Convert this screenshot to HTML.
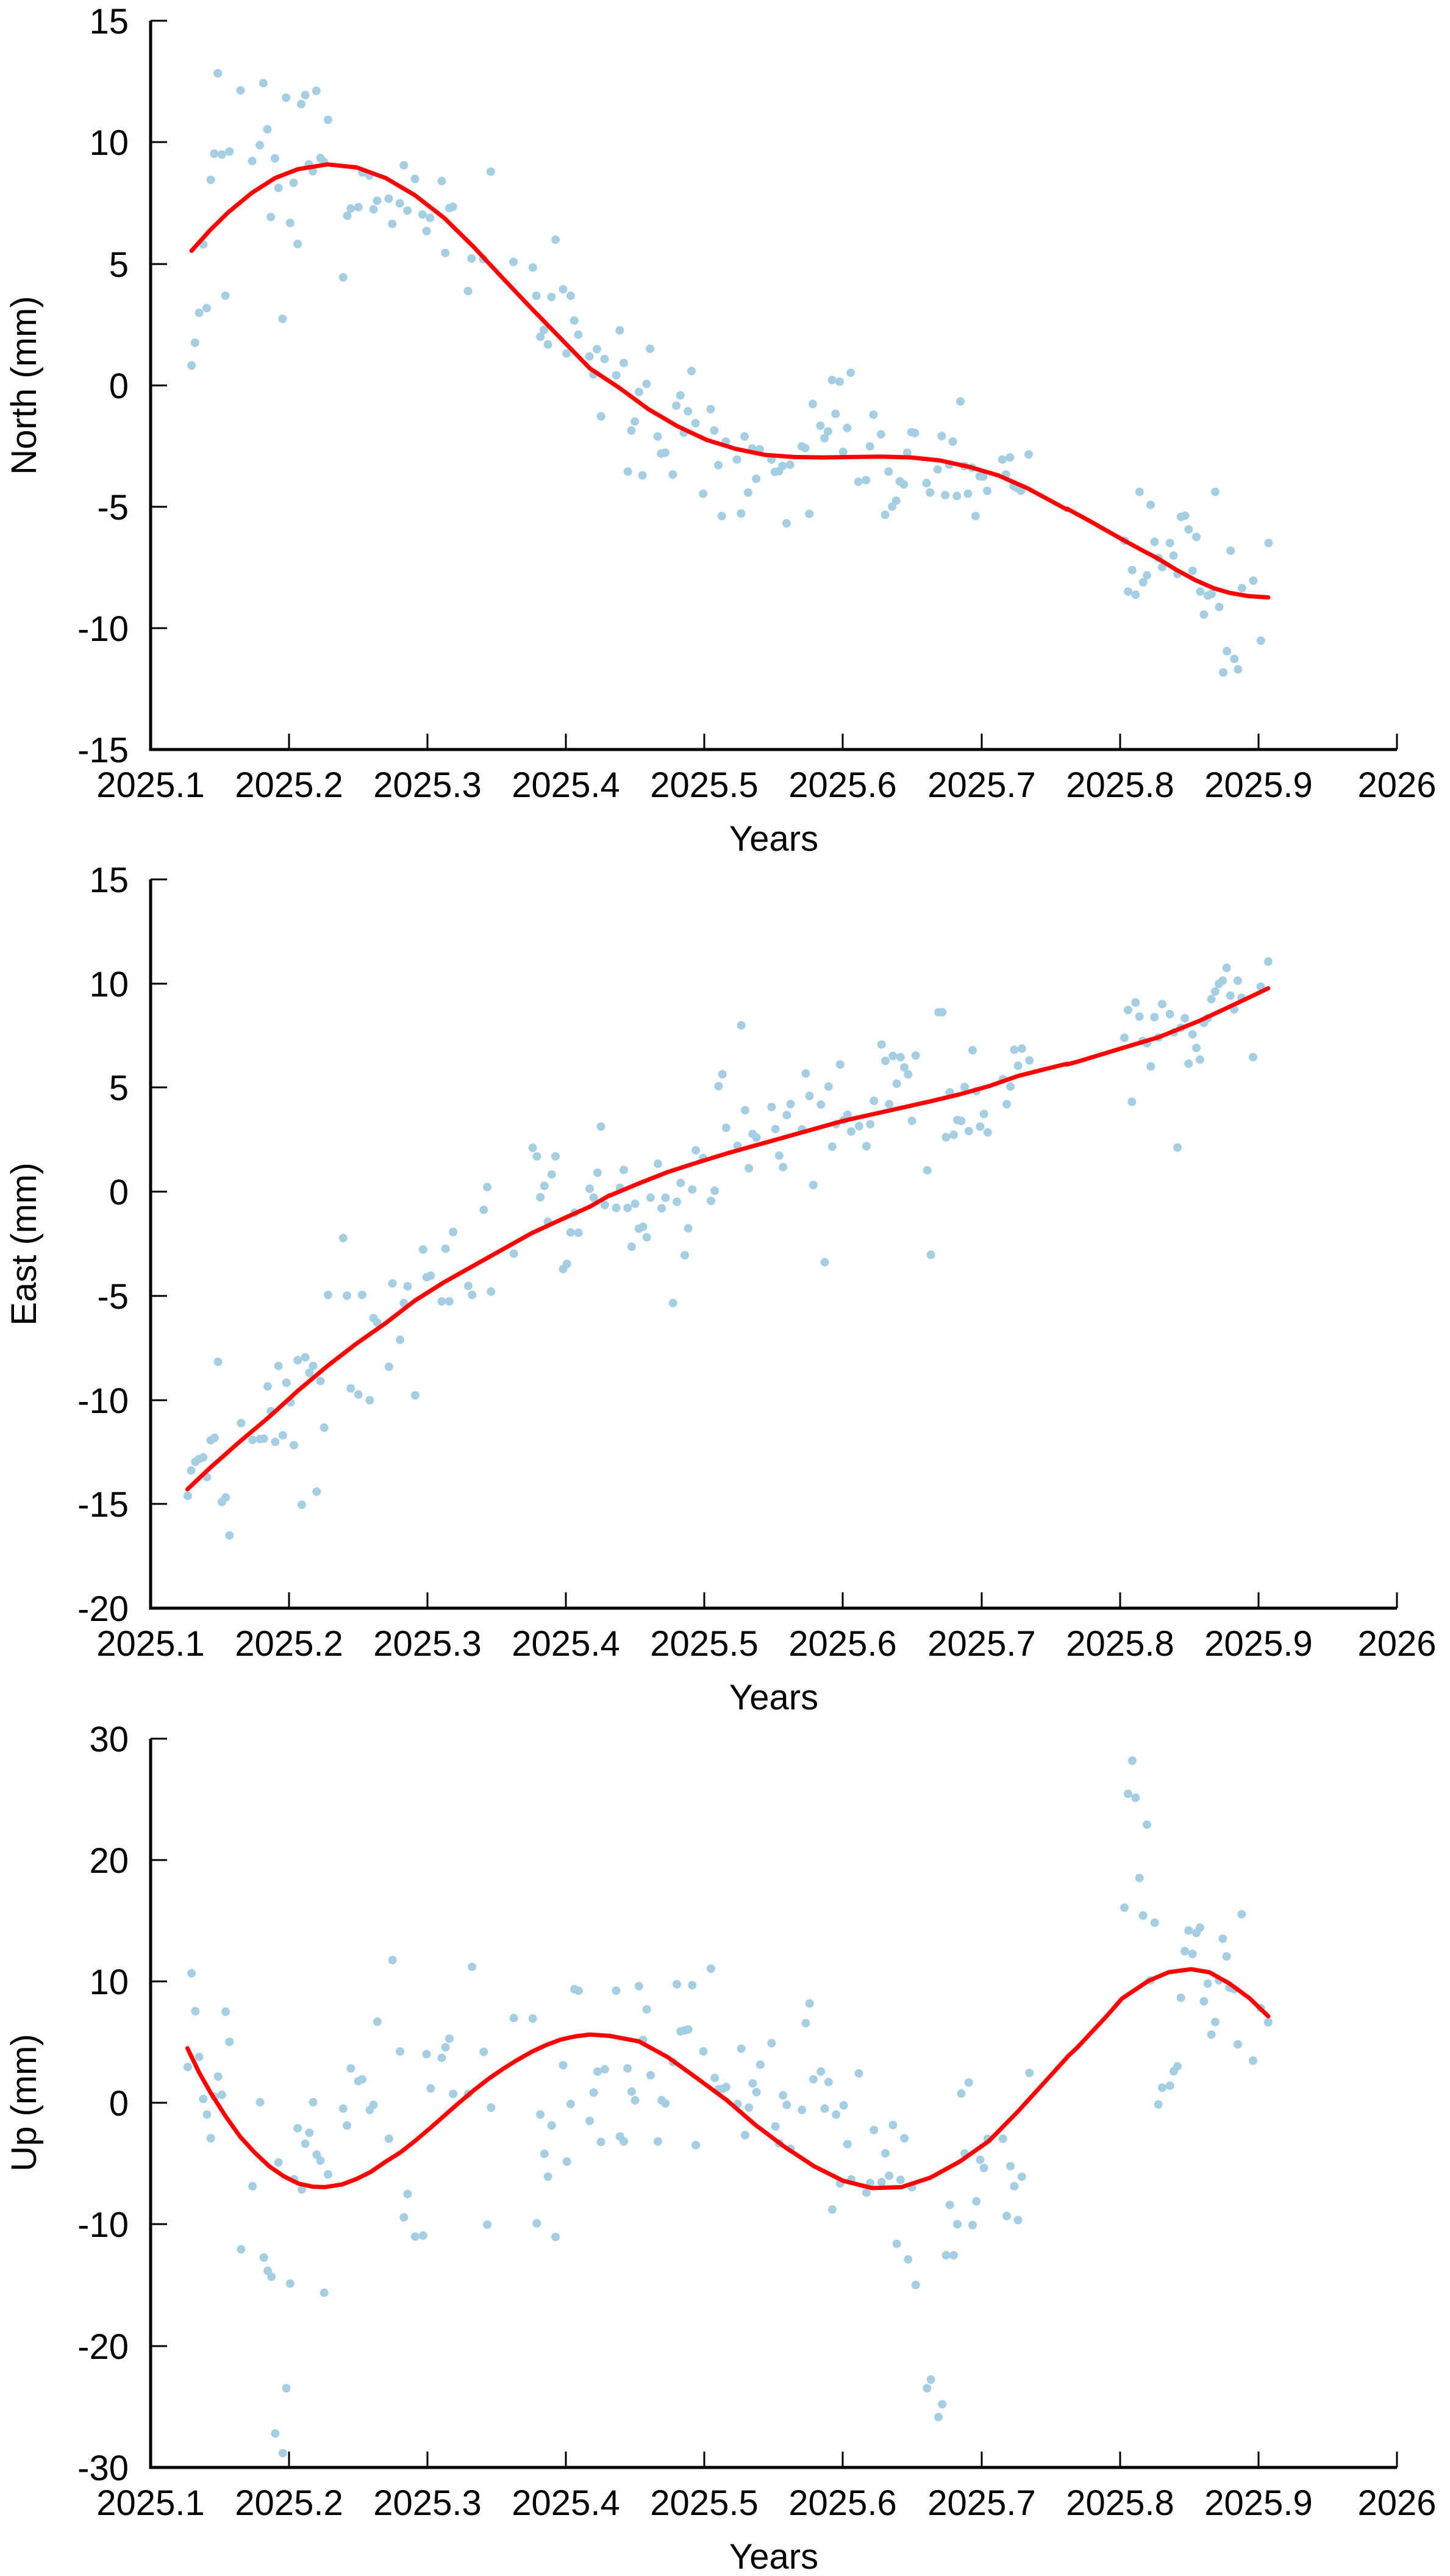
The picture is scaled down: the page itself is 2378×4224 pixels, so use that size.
<!DOCTYPE html>
<html><head><meta charset="utf-8"><style>
html,body{margin:0;padding:0;background:#fff}
svg{display:block}
text{font-family:"Liberation Sans",sans-serif;font-size:58px;fill:#000}
.d{fill:none;stroke:#a6cee3;stroke-width:14;stroke-linecap:round;vector-effect:non-scaling-stroke}
.c{fill:none;stroke:#ff0000;stroke-width:7;stroke-linejoin:round;stroke-linecap:round;vector-effect:non-scaling-stroke}
.ax{stroke:#000;stroke-width:5;fill:none}
.tk{stroke:#000;stroke-width:3}
</style></head><body>
<svg width="2378" height="4224" viewBox="0 0 2378 4224" xmlns="http://www.w3.org/2000/svg">

<!-- ============ PANEL 1 (North) ============ -->
<g transform="translate(250,50) scale(0.9567,0.7015)">
<path class="d" d="M67 783h0M73 730h0M80 660h0M87 500h0M93 649h0M100 349h0M106 288h0M112 100h0M119 290h0M125 620h0M132 283h0M151 140h0M171 305h0M184 268h0M190 123h0M197 231h0M203 436h0M210 299h0M216 368h0M223 674h0M229 157h0M236 450h0M242 356h0M249 499h0M255 172h0M262 151h0M268 313h0M275 329h0M281 141h0M288 298h0M294 307h0M301 209h0M327 577h0M334 433h0M340 416h0M353 413h0M360 332h0M372 339h0M379 418h0M385 398h0M405 393h0M411 452h0M424 404h0M431 315h0M437 421h0M450 347h0M463 430h0M470 469h0M476 438h0M496 352h0M502 520h0M509 415h0M515 412h0M541 609h0M547 533h0M567 534h0M580 330h0M619 541h0M652 554h0M658 620h0M665 716h0M671 700h0M678 734h0M684 623h0M691 489h0M704 605h0M710 755h0M717 620h0M723 678h0M730 711h0M749 762h0M756 804h0M762 745h0M769 902h0M775 768h0M795 806h0M801 701h0M808 777h0M815 1031h0M821 935h0M827 914h0M834 845h0M840 1040h0M847 826h0M853 744h0M866 949h0M872 989h0M879 987h0M892 1038h0M898 877h0M905 853h0M911 940h0M918 890h0M924 796h0M931 918h0M944 1083h0M957 885h0M963 935h0M970 1016h0M976 1135h0M983 961h0M1002 1003h0M1009 1129h0M1015 949h0M1021 1080h0M1028 977h0M1035 1048h0M1041 979h0M1061 1003h0M1067 1032h0M1074 1030h0M1080 1018h0M1087 1152h0M1093 1015h0M1113 972h0M1119 976h0M1126 1130h0M1132 873h0M1145 924h0M1152 953h0M1158 937h0M1165 817h0M1171 896h0M1178 821h0M1184 985h0M1191 929h0M1197 800h0M1210 1055h0M1223 1051h0M1230 972h0M1236 898h0M1249 944h0M1256 1132h0M1262 1031h0M1268 1113h0M1275 1099h0M1281 1054h0M1288 1061h0M1294 987h0M1301 939h0M1307 941h0M1327 1058h0M1333 1080h0M1346 1026h0M1353 948h0M1359 1086h0M1366 1015h0M1372 961h0M1379 1088h0M1385 867h0M1392 1018h0M1398 1083h0M1405 1022h0M1411 1135h0M1418 1042h0M1424 1043h0M1431 1076h0M1457 1003h0M1463 1038h0M1470 998h0M1476 1065h0M1483 1070h0M1489 1076h0M1502 991h0"/>
<path class="c" d="M67 515L100 465L130 425L170 380L210 345L250 324L300 313L350 320L400 345L450 385L500 438L550 505L600 578L650 650L700 720L750 790L800 835L850 885L900 925L950 957L1000 978L1050 992L1100 997L1150 998L1200 997L1250 996L1300 998L1350 1005L1400 1020L1450 1040L1500 1070L1568 1120"/>
</g>
<g transform="translate(1700,700) scale(0.4329,0.3831)">
<path class="d" d="M333 487h0M390 278h0M432 334h0M447 492h0M462 562h0M476 600h0M362 613h0M418 635h0M404 665h0M347 705h0M375 718h0M505 497h0M519 551h0M534 630h0M547 385h0M562 380h0M576 439h0M591 616h0M605 471h0M620 705h0M634 803h0M649 722h0M663 715h0M677 278h0M692 771h0M707 1051h0M721 960h0M735 530h0M749 993h0M763 1038h0M778 690h0M821 658h0M850 915h0M879 497h0"/>
<path class="c" d="M115 350L200 402L333 487L400 528L462 565L530 612L600 655L670 690L730 710L800 724L878 730"/>
</g>
<!-- axes panel 1 -->
<path class="ax" d="M247 34V1229H2291"/>
<g class="tk">
<path d="M247 34h27M247 233h27M247 433h27M247 632h27M247 831h27M247 1030h27"/>
<path d="M474 1229v-26M701 1229v-26M928 1229v-26M1155 1229v-26M1382 1229v-26M1610 1229v-26M1837 1229v-26M2064 1229v-26M2291 1229v-26"/>
</g>
<g text-anchor="end">
<text x="211" y="55">15</text><text x="211" y="254">10</text><text x="211" y="454">5</text><text x="211" y="653">0</text><text x="211" y="852">-5</text><text x="211" y="1051">-10</text><text x="211" y="1250">-15</text>
</g>
<g text-anchor="middle">
<text x="247" y="1307">2025.1</text><text x="474" y="1307">2025.2</text><text x="701" y="1307">2025.3</text><text x="928" y="1307">2025.4</text><text x="1155" y="1307">2025.5</text><text x="1382" y="1307">2025.6</text><text x="1610" y="1307">2025.7</text><text x="1837" y="1307">2025.8</text><text x="2064" y="1307">2025.9</text><text x="2291" y="1307">2026</text>
<text x="1269" y="1395">Years</text>
<text transform="translate(59,632) rotate(-90)">North (mm)</text>
</g>

<!-- ============ PANEL 2 (East) ============ -->
<g transform="translate(250,1550) scale(0.4783,0.6697)">
<path class="d" d="M121 1348h0M133 1286h0M147 1265h0M160 1258h0M174 1254h0M187 1302h0M200 1212h0M213 1206h0M225 1020h0M238 1363h0M251 1352h0M264 1445h0M304 1170h0M343 1211h0M369 1209h0M382 1208h0M395 1080h0M406 1141h0M421 1216h0M432 1030h0M447 1200h0M459 1071h0M473 1119h0M485 1224h0M498 1016h0M512 1370h0M524 1009h0M538 1047h0M551 1030h0M563 1338h0M576 1067h0M589 1181h0M602 856h0M654 717h0M667 858h0M680 1085h0M706 1100h0M719 856h0M745 1114h0M758 913h0M771 924h0M811 1032h0M823 828h0M849 966h0M862 876h0M875 835h0M901 1102h0M928 745h0M940 813h0M954 809h0M992 872h0M1005 743h0M1018 872h0M1031 702h0M1083 834h0M1096 856h0M1136 648h0M1148 592h0M1161 848h0M1239 755h0M1304 496h0M1318 517h0M1330 617h0M1344 589h0M1356 677h0M1369 561h0M1382 517h0M1408 793h0M1421 780h0M1434 703h0M1447 655h0M1461 704h0M1499 596h0M1513 618h0M1526 557h0M1538 444h0M1551 636h0"/>
<path class="c" d="M120 1332L200 1278L300 1215L400 1155L500 1090L600 1030L700 975L800 925L900 870L1000 825L1100 785L1200 745L1300 705L1400 672L1500 640L1568 612"/>
</g>
<g transform="translate(1000,1550) scale(0.4783,0.6697)">
<path class="d" d="M22 643h0M35 594h0M48 550h0M61 643h0M75 738h0M87 633h0M100 694h0M114 689h0M127 715h0M140 618h0M165 535h0M178 644h0M191 618h0M217 876h0M230 628h0M243 582h0M257 759h0M269 693h0M283 598h0M295 502h0M320 521h0M347 626h0M360 601h0M373 345h0M386 316h0M399 447h0M438 491h0M451 196h0M464 404h0M477 546h0M490 462h0M503 471h0M555 396h0M568 450h0M581 515h0M594 543h0M607 416h0M620 389h0M659 451h0M672 314h0M685 369h0M698 587h0M724 390h0M737 776h0M750 346h0M763 493h0M776 438h0M790 292h0M802 428h0M815 415h0M828 456h0M855 443h0M880 492h0M893 438h0M906 381h0M932 243h0M945 283h0M958 389h0M971 271h0M984 339h0M997 274h0M1010 299h0M1023 316h0M1036 430h0M1049 270h0M1089 551h0M1101 758h0M1127 164h0M1140 164h0M1153 470h0M1166 360h0M1179 464h0M1192 428h0M1205 430h0M1217 347h0M1231 455h0M1244 257h0M1257 357h0M1270 444h0M1283 413h0M1296 458h0M1348 328h0M1361 389h0M1374 346h0M1387 256h0M1400 295h0M1413 253h0M1439 282h0"/>
<path class="c" d="M0 613L100 583L200 555L300 532L400 510L500 490L600 470L700 450L800 430L900 414L1000 398L1100 382L1200 365L1300 345L1400 320L1500 302L1568 290"/>
</g>
<g transform="translate(1700,1500) scale(0.3333,0.4464)">
<path class="d" d="M432 452h0M450 350h0M487 322h0M506 374h0M522 464h0M543 472h0M562 557h0M469 687h0M580 376h0M599 451h0M618 328h0M656 365h0M676 432h0M693 855h0M710 415h0M729 380h0M748 547h0M767 439h0M786 489h0M804 532h0M823 397h0M842 380h0M860 310h0M879 282h0M897 254h0M916 242h0M935 195h0M953 297h0M972 348h0M990 242h0M1009 305h0M1065 523h0M1103 264h0M1140 172h0"/>
<path class="c" d="M150 550L200 540L420 490L600 450L800 390L1000 320L1140 270"/>
</g>
<!-- axes panel 2 -->
<path class="ax" d="M247 1442V2637H2291"/>
<g class="tk">
<path d="M247 1442h27M247 1613h27M247 1783h27M247 1954h27M247 2125h27M247 2296h27M247 2466h27"/>
<path d="M474 2637v-26M701 2637v-26M928 2637v-26M1155 2637v-26M1382 2637v-26M1610 2637v-26M1837 2637v-26M2064 2637v-26M2291 2637v-26"/>
</g>
<g text-anchor="end">
<text x="211" y="1463">15</text><text x="211" y="1634">10</text><text x="211" y="1804">5</text><text x="211" y="1975">0</text><text x="211" y="2146">-5</text><text x="211" y="2317">-10</text><text x="211" y="2487">-15</text><text x="211" y="2658">-20</text>
</g>
<g text-anchor="middle">
<text x="247" y="2715">2025.1</text><text x="474" y="2715">2025.2</text><text x="701" y="2715">2025.3</text><text x="928" y="2715">2025.4</text><text x="1155" y="2715">2025.5</text><text x="1382" y="2715">2025.6</text><text x="1610" y="2715">2025.7</text><text x="1837" y="2715">2025.8</text><text x="2064" y="2715">2025.9</text><text x="2291" y="2715">2026</text>
<text x="1269" y="2803">Years</text>
<text transform="translate(59,2040) rotate(-90)">East (mm)</text>
</g>

<!-- ============ PANEL 3 (Up) ============ -->
<g transform="translate(250,2870) scale(0.4783,0.7494)">
<path class="d" d="M121 693h0M134 488h0M147 571h0M160 671h0M174 763h0M187 797h0M200 849h0M213 758h0M225 714h0M238 754h0M251 572h0M264 638h0M304 1092h0M343 954h0M369 770h0M382 1110h0M395 1139h0M408 1152h0M421 1495h0M432 902h0M447 1538h0M459 1396h0M472 1167h0M486 939h0M498 827h0M512 961h0M524 861h0M538 837h0M551 770h0M563 885h0M576 898h0M589 1187h0M602 928h0M654 784h0M667 821h0M680 696h0M706 724h0M719 720h0M745 787h0M758 776h0M771 594h0M811 850h0M823 459h0M849 659h0M862 1022h0M875 971h0M901 1064h0M928 1062h0M940 665h0M954 740h0M992 673h0M1005 650h0M1018 631h0M1031 752h0M1083 752h0M1096 474h0M1136 660h0M1148 1038h0M1161 782h0M1239 586h0M1304 587h0M1318 1035h0M1330 797h0M1344 883h0M1356 933h0M1369 821h0M1382 1065h0M1408 689h0M1421 900h0M1434 774h0M1447 523h0M1461 526h0M1499 811h0M1513 749h0M1526 703h0M1538 857h0M1551 698h0"/>
<path class="c" d="M120 652L160 705L200 750L250 800L300 845L350 880L400 910L450 932L500 948L550 955L590 956L650 950L700 938L750 922L800 900L850 880L900 855L950 828L1000 800L1050 772L1100 745L1150 720L1200 698L1250 678L1300 660L1350 645L1400 633L1450 626L1500 622L1568 625"/>
</g>
<g transform="translate(1000,2870) scale(0.4783,0.7494)">
<path class="d" d="M22 526h0M35 845h0M48 856h0M61 696h0M75 747h0M87 766h0M100 516h0M114 634h0M127 567h0M140 711h0M165 856h0M178 766h0M191 773h0M217 682h0M230 512h0M243 615h0M257 613h0M269 611h0M283 514h0M295 864h0M321 659h0M347 478h0M360 717h0M373 742h0M386 741h0M399 737h0M438 774h0M451 653h0M464 842h0M477 782h0M490 729h0M503 748h0M516 688h0M555 641h0M568 823h0M581 860h0M594 755h0M607 776h0M620 872h0M659 787h0M672 597h0M685 554h0M698 720h0M724 703h0M737 784h0M750 726h0M763 1005h0M776 797h0M790 948h0M802 777h0M815 862h0M828 939h0M854 707h0M880 968h0M893 947h0M906 831h0M932 945h0M945 882h0M958 931h0M971 820h0M984 1080h0M997 940h0M1010 849h0M1023 1114h0M1036 956h0M1049 1170h0M1088 1396h0M1101 1377h0M1127 1459h0M1140 1431h0M1153 1105h0M1166 995h0M1179 1105h0M1192 1037h0M1205 751h0M1217 882h0M1231 727h0M1244 1039h0M1257 987h0M1270 896h0M1283 914h0M1296 850h0M1348 850h0M1361 1019h0M1374 910h0M1387 954h0M1400 1028h0M1413 933h0M1439 706h0"/>
<path class="c" d="M0 625L100 637L200 672L300 718L400 765L500 820L600 868L700 910L800 942L900 958L1000 956L1100 935L1200 900L1300 855L1400 790L1500 720L1568 672"/>
</g>
<g transform="translate(1700,2900) scale(0.3333,0.4464)">
<path class="d" d="M450 93h0M487 107h0M543 206h0M506 402h0M432 511h0M524 540h0M581 566h0M560 778h0M748 595h0M804 584h0M786 604h0M729 671h0M767 681h0M916 625h0M935 690h0M1009 535h0M710 842h0M842 790h0M823 855h0M897 778h0M950 805h0M972 810h0M879 931h0M860 977h0M990 1013h0M1065 1073h0M1103 880h0M1140 932h0M693 1094h0M675 1112h0M618 1172h0M656 1165h0M599 1234h0"/>
<path class="c" d="M150 1060L200 1025L350 905L420 845L550 780L650 748L760 737L850 748L950 790L1050 845L1140 910"/>
</g>
<path class="d" d="M1857 2887h0"/>
<!-- axes panel 3 -->
<path class="ax" d="M247 2851V4046H2291"/>
<g class="tk">
<path d="M247 2851h27M247 3050h27M247 3249h27M247 3448h27M247 3647h27M247 3847h27"/>
<path d="M474 4046v-26M701 4046v-26M928 4046v-26M1155 4046v-26M1382 4046v-26M1610 4046v-26M1837 4046v-26M2064 4046v-26M2291 4046v-26"/>
</g>
<g text-anchor="end">
<text x="211" y="2872">30</text><text x="211" y="3071">20</text><text x="211" y="3270">10</text><text x="211" y="3469">0</text><text x="211" y="3668">-10</text><text x="211" y="3868">-20</text><text x="211" y="4067">-30</text>
</g>
<g text-anchor="middle">
<text x="247" y="4124">2025.1</text><text x="474" y="4124">2025.2</text><text x="701" y="4124">2025.3</text><text x="928" y="4124">2025.4</text><text x="1155" y="4124">2025.5</text><text x="1382" y="4124">2025.6</text><text x="1610" y="4124">2025.7</text><text x="1837" y="4124">2025.8</text><text x="2064" y="4124">2025.9</text><text x="2291" y="4124">2026</text>
<text x="1269" y="4212">Years</text>
<text transform="translate(59,3448) rotate(-90)">Up (mm)</text>
</g>
</svg>
</body></html>
